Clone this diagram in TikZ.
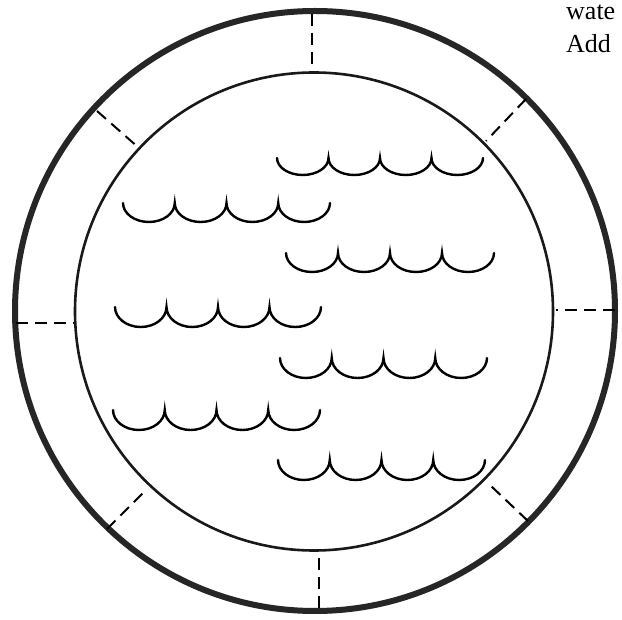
\documentclass[tikz,border=0pt]{standalone}
\usepackage{fontspec}
\setmainfont{Liberation Serif}
\begin{document}
\begin{tikzpicture}[x=1pt,y=-1pt,
  outerring/.style={line width=6pt,draw=black!85},
  innerring/.style={line width=2.6pt,draw=black!90},
  spoke/.style={line width=2pt,dash pattern=on 12pt off 7pt},
  wave/.style={line width=2.4pt,line cap=round},
  lbl/.style={inner sep=0pt,anchor=base west,font=\fontsize{26}{30}\selectfont}]
\useasboundingbox (0,0) rectangle (622,620);
\fill[white] (0,0) rectangle (622,620);
\draw[outerring] (315,311) circle[radius=300];
\draw[innerring] (314,311.5) circle[radius=239];
% spoke end points
\coordinate (t1) at (312,14);  \coordinate (t2) at (312,71);
\coordinate (b1) at (319,608); \coordinate (b2) at (319,553);
\coordinate (l1) at (16,323);  \coordinate (l2) at (74,323);
\coordinate (r1) at (615,310); \coordinate (r2) at (556,310);
\coordinate (tl1) at (97,111); \coordinate (tl2) at (139,148);
\coordinate (tr1) at (526,99); \coordinate (tr2) at (486,141);
\coordinate (br1) at (528,521); \coordinate (br2) at (491,486);
\coordinate (bl1) at (107,529); \coordinate (bl2) at (144,492);
\foreach \a in {t,b,l,r,tl,tr,br,bl}{\draw[spoke] (\a1) -- (\a2);}
% waves: left x, top y, width, depth
\foreach \x/\y/\w/\d in {277/158/206/17, 123/203/207/19, 286/253/208/19,
  115/307/206/20, 280/358/207/20, 113/410/207/20, 278/460/207/20}{
  \pgfmathsetmacro{\rx}{\w/8}
  \draw[wave] (\x,\y) arc[start angle=180,end angle=0,x radius=\rx,y radius=\d]
    arc[start angle=180,end angle=0,x radius=\rx,y radius=\d]
    arc[start angle=180,end angle=0,x radius=\rx,y radius=\d]
    arc[start angle=180,end angle=0,x radius=\rx,y radius=\d];
}
\node[lbl] (w) at (566,20) {wate};
\node[lbl] (a) at (566,53) {Add};
\end{tikzpicture}
\end{document}
